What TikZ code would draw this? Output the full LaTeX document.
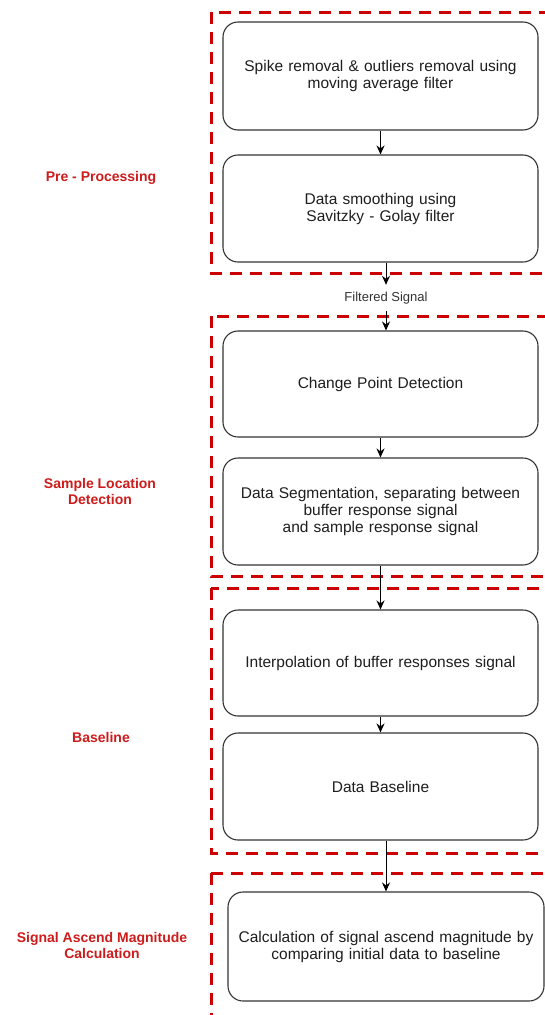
\documentclass[tikz,border=0pt]{standalone}
\usepackage{fontspec}
\setmainfont{Liberation Sans}
\usetikzlibrary{arrows.meta}
\definecolor{dred}{RGB}{204,0,0}
\definecolor{lred}{RGB}{206,28,28}
\definecolor{edge}{RGB}{51,51,51}
\definecolor{ink}{RGB}{30,30,30}
\tikzset{
  phase/.style={draw=dred, line width=3pt, dash pattern=on 12pt off 8pt},
  stepbox/.style={draw=edge, line width=1.1pt, rounded corners=15pt, fill=white,
    minimum width=315pt, text width=300pt, align=center, text=ink,
    font=\fontsize{15.5}{17}\selectfont, inner sep=0pt},
  phaselabel/.style={text=lred, align=center, font=\fontsize{14}{16}\selectfont\bfseries},
  arr/.style={draw=black, line width=1pt, -{Stealth[length=9pt,width=8pt]}},
  small/.style={font=\fontsize{13}{14}\selectfont, inner sep=0pt, minimum height=26pt, text=edge}
}
\begin{document}
\begin{tikzpicture}[x=1pt,y=-1pt]
\clip (0,0) rectangle (545,1015);
\fill[white] (0,0) rectangle (545,1015);
% phase frames
\draw[phase] (211,12) rectangle (570,273);
\draw[phase] (211,316) rectangle (570,576);
\draw[phase] (211,588) rectangle (570,853);
\draw[phase] (211,873) rectangle (570,1030);
% boxes
\node[stepbox, minimum height=108pt] (n1) at (380.5,76) {Spike removal \& outliers removal using\\moving average filter};
\node[stepbox, minimum height=107pt] (n2) at (380.5,208.5) {Data smoothing using\\Savitzky - Golay filter};
\node[stepbox, minimum height=106pt] (n3) at (380.5,384) {Change Point Detection};
\node[stepbox, minimum height=107pt] (n4) at (380.5,511.5) {Data Segmentation, separating between\\buffer response signal\\and sample response signal};
\node[stepbox, minimum height=106pt] (n5) at (380.5,663) {Interpolation of buffer responses signal};
\node[stepbox, minimum height=107pt] (n6) at (380.5,786.5) {Data Baseline};
\node[stepbox, minimum height=109pt, minimum width=316pt] (n7) at (386,946.5) {Calculation of signal ascend magnitude by\\comparing initial data to baseline};
\node[small] (fs) at (386,298) {Filtered Signal};
% labels
\node[phaselabel] (l1) at (101,178) {Pre - Processing};
\node[phaselabel] (l2) at (100,491) {Sample Location\\Detection};
\node[phaselabel] (l3) at (101,737) {Baseline};
\node[phaselabel] (l4) at (102,945.5) {Signal Ascend Magnitude\\Calculation};
% connectors
\draw[arr] (n1.south) -- (n2.north);
\draw[arr] (fs.north |- n2.south) -- (fs.north);
\draw[arr] (fs.south) -- (fs.south |- n3.north);
\draw[arr] (n3.south) -- (n4.north);
\draw[arr] (n4.south) -- (n5.north);
\draw[arr] (n5.south) -- (n6.north);
\draw[arr] (n7.north |- n6.south) -- (n7.north);
\end{tikzpicture}
\end{document}
